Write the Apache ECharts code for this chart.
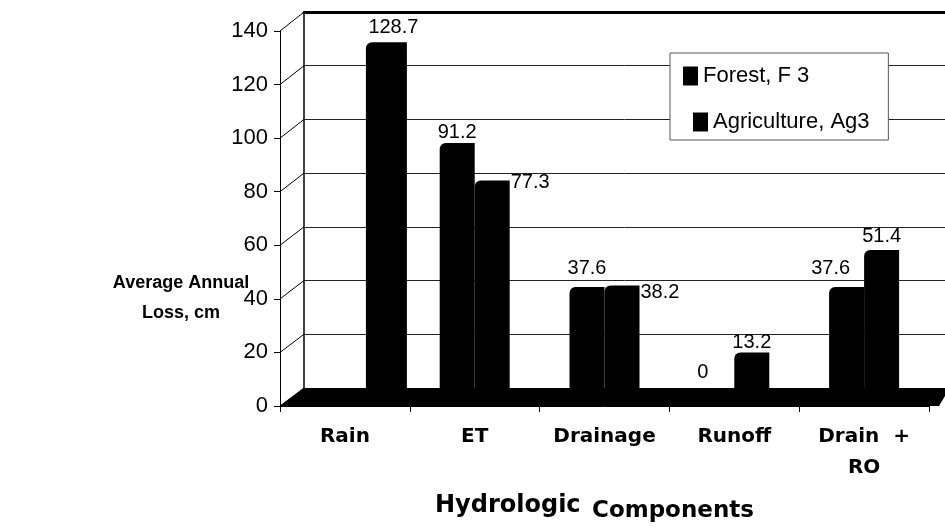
<!DOCTYPE html>
<html><head><meta charset="utf-8">
<script src="https://cdn.jsdelivr.net/npm/echarts@6/dist/echarts.min.js"></script>
<style>html,body{margin:0;padding:0;background:#fff}#c{width:945px;height:531px}</style>
</head><body><div id="c"></div>
<script>
// ---------- data ----------
const categories = ['Rain', 'ET', 'Drainage', 'Runoff', 'Drain  +\nRO'];
const forest = [null, 91.2, 37.6, 0, 37.6];
const agriculture = [null, 77.3, 38.2, 13.2, 51.4];
const rainfall = [128.7, null, null, null, null];
const yTicks = [0, 20, 40, 60, 80, 100, 120, 140];
const seriesNames = ['Forest, F 3', 'Agriculture, Ag3'];
const yAxisTitle = ['Average Annual', 'Loss, cm'];
const xAxisTitle = ['Hydrologic', 'Components'];

// ---------- layout ----------
const W = 945, H = 531;
const FRONT = { left: 280, right: 929, top: 31, bottom: 406 };
const BACK = { left: 304, top: 12, bottom: 388 };
const Y_MIN = yTicks[0], Y_MAX = yTicks[yTicks.length - 1], Y_STEP = yTicks[1] - yTicks[0];
const NUM_FONT = '"Liberation Sans", Arial, sans-serif';
const BOLD_FONT = '"DejaVu Sans", "Liberation Sans", sans-serif';

// label tweaks (layout only)
const forestLabelTweak = {1: {distance: 1}, 2: {distance: 9}, 3: {distance: 6, offset: [-14, 0]}, 4: {distance: 9, offset: [-16, 0]}};
const agriLabelTweak = {
  1: {position: ['100%', 0], align: 'left', verticalAlign: 'middle', offset: [1, 2]},
  2: {position: ['100%', 0], align: 'left', verticalAlign: 'middle', offset: [1, 7]},
  3: {distance: 0}, 4: {distance: 3}
};
function withLabels(arr, tweaks) {
  return arr.map((v, i) => (v == null ? null : (tweaks[i] ? {value: v, label: tweaks[i]} : v)));
}
const baseLabel = {show: true, position: 'top', distance: 4, color: '#000', fontFamily: NUM_FONT, fontSize: 20};
const barStyle = {color: '#000', borderRadius: [6, 0, 0, 0]};

const chart = echarts.init(document.getElementById('c'), null, {renderer: 'canvas'});
const gridFront = {left: FRONT.left, right: W - FRONT.right, top: FRONT.top, bottom: H - FRONT.bottom, outerBoundsMode: 'none'};
const gridBack = {left: BACK.left, right: 0, top: BACK.top, bottom: H - BACK.bottom, outerBoundsMode: 'none'};
const gridBars = {left: FRONT.left, right: W - FRONT.right, top: BACK.top, bottom: H - BACK.bottom, outerBoundsMode: 'none'};

chart.setOption({
  backgroundColor: '#fff',
  animation: false,
  grid: [gridFront, gridBack, gridBars],
  xAxis: [
    {gridIndex: 0, type: 'category', data: categories, boundaryGap: true,
     axisLine: {show: true, lineStyle: {color: '#000', width: 1}},
     axisTick: {show: true, length: 6, alignWithLabel: false, interval: 0, lineStyle: {color: '#000'}},
     axisLabel: {interval: 0, margin: 15, color: '#000', fontFamily: BOLD_FONT, fontWeight: 'bold', fontSize: 20, lineHeight: 31},
     splitLine: {show: false}},
    {gridIndex: 1, type: 'value', min: 0, max: 1, position: 'top',
     axisLine: {show: true, onZero: false, lineStyle: {color: '#000', width: 3}},
     axisTick: {show: false}, axisLabel: {show: false}, splitLine: {show: false}},
    {gridIndex: 2, type: 'category', data: categories, show: false},
    {gridIndex: 2, type: 'category', data: categories, show: false}
  ],
  yAxis: [
    {gridIndex: 0, type: 'value', min: Y_MIN, max: Y_MAX, interval: Y_STEP,
     axisLine: {show: true, lineStyle: {color: '#000', width: 1}},
     axisTick: {show: true, length: 6, lineStyle: {color: '#000'}},
     axisLabel: {margin: 12, color: '#000', fontFamily: NUM_FONT, fontSize: 22},
     splitLine: {show: false}},
    {gridIndex: 1, type: 'value', min: Y_MIN, max: Y_MAX, interval: Y_STEP,
     axisLine: {show: true, lineStyle: {color: '#000', width: 1.5}},
     axisTick: {show: false}, axisLabel: {show: false},
     splitLine: {show: true, lineStyle: {color: '#222', width: 1}}},
    {gridIndex: 2, type: 'value', min: Y_MIN, max: Y_MAX, show: false, splitLine: {show: false}}
  ],
  legend: [
    {data: [seriesNames[0]], left: 670, top: 53, orient: 'vertical', padding: [12, 79, 53, 13],
     borderColor: '#555', borderWidth: 1, backgroundColor: '#fff', itemWidth: 15, itemHeight: 19, icon: 'rect',
     selectedMode: false, textStyle: {color: '#000', fontFamily: NUM_FONT, fontSize: 22, lineHeight: 22}},
    {data: [seriesNames[1]], left: 693, top: 111, orient: 'vertical', padding: 0,
     itemWidth: 15, itemHeight: 19, icon: 'rect',
     selectedMode: false, textStyle: {color: '#000', fontFamily: NUM_FONT, fontSize: 22, lineHeight: 22}}
  ],
  series: [
    {name: seriesNames[0], type: 'bar', xAxisIndex: 2, yAxisIndex: 2, barWidth: 35, barGap: '0%',
     data: withLabels(forest, forestLabelTweak), itemStyle: barStyle, label: baseLabel, z: 3},
    {name: seriesNames[1], type: 'bar', xAxisIndex: 2, yAxisIndex: 2, barWidth: 35, barGap: '0%',
     data: withLabels(agriculture, agriLabelTweak), itemStyle: barStyle, label: baseLabel, z: 3},
    {name: 'spacer', type: 'bar', xAxisIndex: 3, yAxisIndex: 2, barWidth: 83, barGap: '0%',
     data: rainfall.map(() => null), silent: true},
    {name: 'Rain', type: 'bar', xAxisIndex: 3, yAxisIndex: 2, barWidth: 41, barGap: '0%',
     data: rainfall, itemStyle: barStyle, label: Object.assign({}, baseLabel, {distance: 5, offset: [7, 0]}), z: 3}
  ]
});

// ---------- decorations: 3D floor, tick connectors, titles ----------
const graphics = [];
graphics.push({type: 'polygon', z: 2, silent: true,
  shape: {points: [[FRONT.left, FRONT.bottom], [BACK.left, BACK.bottom], [W, BACK.bottom], [W, BACK.bottom + 8], [FRONT.right + 10, FRONT.bottom]]},
  style: {fill: '#000'}});
yTicks.forEach(v => {
  const yf = chart.convertToPixel({yAxisIndex: 0}, v);
  const yb = chart.convertToPixel({yAxisIndex: 1}, v);
  graphics.push({type: 'line', z: 1, silent: true,
    shape: {x1: FRONT.left, y1: yf, x2: BACK.left, y2: yb},
    style: {stroke: '#000', lineWidth: 1}});
});
graphics.push({type: 'text', silent: true, x: 181, y: 298,
  style: {text: yAxisTitle.join('\n'), align: 'center', verticalAlign: 'middle',
    fontFamily: NUM_FONT, fontWeight: 'bold', fontSize: 18, lineHeight: 30, fill: '#000'}});
graphics.push({type: 'text', silent: true, x: 435, y: 506,
  style: {text: xAxisTitle[0], align: 'left', verticalAlign: 'middle',
    fontFamily: BOLD_FONT, fontWeight: 'bold', fontSize: 24, fill: '#000'}});
graphics.push({type: 'text', silent: true, x: 592, y: 511,
  style: {text: xAxisTitle[1], align: 'left', verticalAlign: 'middle',
    fontFamily: BOLD_FONT, fontWeight: 'bold', fontSize: 23, fill: '#000'}});
chart.setOption({graphic: graphics});
</script>
</body></html>
